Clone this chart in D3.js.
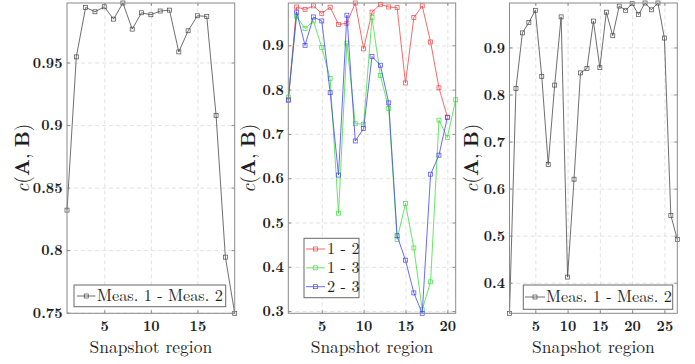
<!DOCTYPE html>
<html>
<head>
<meta charset="utf-8">
<script src="https://cdn.jsdelivr.net/npm/d3@7"></script>
<style>
  html, body { margin: 0; padding: 0; background: #fff; }
  svg { display: block; }
</style>
</head>
<body>
<svg id="chart" width="695" height="364"></svg>
<script>
// ---------------- data ----------------
const leftRegions = [1,2,3,4,5,6,7,8,9,10,11,12,13,14,15,16,17,18,19];
const leftValues = [0.832,0.9545,0.9941,0.9906,0.9946,0.9847,0.9976,0.9767,0.9898,0.9882,0.9912,0.9919,0.9585,0.9754,0.9874,0.9869,0.9078,0.7944,0.7495];
const leftXTicks = [5,10,15];
const leftYTicks = [0.75,0.8,0.85,0.9,0.95];
const leftLegend = ["Meas. 1 - Meas. 2"];

const midRegions12 = [1,2,3,4,5,6,7,8,9,10,11,12,13,14,15,16,17,18,19,20];
const mid12 = [0.778,0.9865,0.981,0.989,0.972,0.986,0.947,0.950,0.9955,0.892,0.975,0.9925,0.9865,0.985,0.815,0.9625,0.989,0.9075,0.804,0.738];
const midRegions13 = [1,2,3,4,5,6,7,8,9,10,11,12,13,14,15,16,17,18,19,20,21];
const mid13 = [0.783,0.965,0.938,0.955,0.895,0.825,0.521,0.905,0.723,0.722,0.9625,0.832,0.757,0.462,0.543,0.4425,0.303,0.366,0.731,0.692,0.777];
const midRegions23 = [1,2,3,4,5,6,7,8,9,10,11,12,13,14,15,16,17,18,19,20];
const mid23 = [0.776,0.975,0.900,0.964,0.955,0.793,0.607,0.968,0.684,0.712,0.875,0.855,0.770,0.470,0.415,0.341,0.295,0.609,0.652,0.737];
const midXDomain = [1,21];
const midXTicks = [5,10,15,20];
const midYTicks = [0.3,0.4,0.5,0.6,0.7,0.8,0.9];
const midLegend = ["1 - 2","1 - 3","2 - 3"];

const rightRegions = [1,2,3,4,5,6,7,8,9,10,11,12,13,14,15,16,17,18,19,20,21,22,23,24,25,26,27];
const rightValues = [0.335,0.813,0.931,0.953,0.979,0.838,0.651,0.820,0.965,0.412,0.620,0.846,0.855,0.956,0.857,0.975,0.925,0.988,0.979,0.993,0.970,0.9945,0.980,0.9945,0.920,0.543,0.492];
const rightXTicks = [5,10,15,20,25];
const rightYTicks = [0.4,0.5,0.6,0.7,0.8,0.9];
const rightLegend = ["Meas. 1 - Meas. 2"];

const xLabel = "Snapshot region";

// ---------------- layout / style ----------------
const FONT = "Latin Modern Roman";
const svg = d3.select("#chart");
const TOP = 3, BOTTOM = 313.3;
const frameColor = "#8a8a8a";
const gridColor = "#dadada";
const textColor = "#1e1e1e";

const panels = [
  { x0: 67, x1: 234.7, series: [{xs: leftRegions, ys: leftValues, color: "#4a4a4a", name: leftLegend[0]}],
    xTicks: leftXTicks, yTicks: leftYTicks, ylabX: 28.5,
    legend: {x: 74, y: 285, w: 151.7, h: 21.7, lineX0: 77, lineX1: 95.5, textX: 97, rowY: [296]} },
  { x0: 288.3, x1: 455.7, xDomain: midXDomain, series: [
      {xs: midRegions12, ys: mid12, color: "#f04545", name: midLegend[0]},
      {xs: midRegions13, ys: mid13, color: "#3fe03f", name: midLegend[1]},
      {xs: midRegions23, ys: mid23, color: "#4545f0", name: midLegend[2]}],
    xTicks: midXTicks, yTicks: midYTicks, ylabX: 255,
    legend: {x: 304, y: 238.3, w: 55, h: 59.4, lineX0: 306, lineX1: 325, textX: 327, rowY: [249, 267.8, 286.7]} },
  { x0: 509.5, x1: 677.3, series: [{xs: rightRegions, ys: rightValues, color: "#4a4a4a", name: rightLegend[0]}],
    xTicks: rightXTicks, yTicks: rightYTicks, ylabX: 477.5,
    legend: {x: 523.3, y: 285, w: 149.4, h: 24.3, lineX0: 525, lineX1: 545, textX: 546, rowY: [297]} }
];

const fmt = d => String(+d.toFixed(2));

panels.forEach(p => {
  const allX = p.series.flatMap(s => s.xs);
  const allY = p.series.flatMap(s => s.ys);
  const x = d3.scaleLinear().domain(p.xDomain || d3.extent(allX)).range([p.x0, p.x1]);
  const y = d3.scaleLinear().domain(d3.extent(allY)).range([BOTTOM, TOP]);
  const W = p.x1 - p.x0, H = BOTTOM - TOP;
  const g = svg.append("g");

  // grid
  const gx = g.append("g").attr("transform", `translate(0,${BOTTOM})`)
    .call(d3.axisBottom(x).tickValues(p.xTicks).tickSize(-H).tickFormat(""));
  const gy = g.append("g").attr("transform", `translate(${p.x0},0)`)
    .call(d3.axisLeft(y).tickValues(p.yTicks).tickSize(-W).tickFormat(""));
  [gx, gy].forEach(a => {
    a.select(".domain").remove();
    a.selectAll("text").remove();
    a.selectAll("line").attr("stroke", gridColor).attr("stroke-dasharray", "4,3").attr("stroke-width", 0.8);
  });

  // lines and markers
  const clipId = "clip" + Math.round(p.x0);
  g.append("clipPath").attr("id", clipId).append("rect")
    .attr("x", p.x0 - 3).attr("y", TOP - 3).attr("width", W + 6).attr("height", H + 6);
  const plot = g.append("g").attr("clip-path", `url(#${clipId})`);
  const line = d3.line().x(d => x(d[0])).y(d => y(d[1]));
  p.series.forEach(s => {
    const pts = s.xs.map((v, i) => [v, s.ys[i]]);
    plot.append("path").datum(pts).attr("d", line)
      .attr("fill", "none").attr("stroke", s.color).attr("stroke-width", 0.8);
    plot.selectAll(null).data(pts).enter().append("rect")
      .attr("x", d => x(d[0]) - 2).attr("y", d => y(d[1]) - 2)
      .attr("width", 4).attr("height", 4)
      .attr("fill", "none").attr("stroke", s.color).attr("stroke-width", 0.7);
  });

  // frame
  g.append("rect").attr("x", p.x0).attr("y", TOP).attr("width", W).attr("height", H)
    .attr("fill", "none").attr("stroke", frameColor).attr("stroke-width", 1);

  // axes with inward ticks
  const ax = g.append("g").attr("transform", `translate(0,${BOTTOM})`)
    .call(d3.axisBottom(x).tickValues(p.xTicks).tickSizeInner(-3).tickSizeOuter(0).tickPadding(7.5).tickFormat(d3.format("d")));
  const ay = g.append("g").attr("transform", `translate(${p.x0},0)`)
    .call(d3.axisLeft(y).tickValues(p.yTicks).tickSizeInner(-3).tickSizeOuter(0).tickPadding(4.5).tickFormat(fmt));
  const at = g.append("g").attr("transform", `translate(0,${TOP})`)
    .call(d3.axisTop(x).tickValues(p.xTicks).tickSizeInner(-3).tickSizeOuter(0).tickFormat(""));
  const ar = g.append("g").attr("transform", `translate(${p.x1},0)`)
    .call(d3.axisRight(y).tickValues(p.yTicks).tickSizeInner(-3).tickSizeOuter(0).tickFormat(""));
  [at, ar].forEach(a => a.selectAll("text").remove());
  [ax, ay, at, ar].forEach(a => {
    a.attr("font-family", FONT);
    a.select(".domain").remove();
    a.selectAll("line").attr("stroke", frameColor);
    a.selectAll("text").attr("font-family", FONT)
      .attr("font-size", 14.5).attr("font-weight", "bold").attr("fill", textColor);
  });

  // x label
  g.append("text").attr("x", (p.x0 + p.x1) / 2).attr("y", 352.5)
    .attr("font-family", FONT).attr("fill", textColor)
    .attr("text-anchor", "middle").attr("font-size", 17.5).text(xLabel);

  // y label c(A, B)
  const yl = g.append("text")
    .attr("transform", `translate(${p.ylabX},${(TOP + BOTTOM) / 2}) rotate(-90)`)
    .attr("font-family", FONT).attr("fill", textColor)
    .attr("text-anchor", "middle").attr("font-size", 19.5);
  yl.append("tspan").attr("font-style", "italic").text("c");
  yl.append("tspan").text("(");
  yl.append("tspan").attr("font-weight", "bold").text("A");
  yl.append("tspan").text(", ");
  yl.append("tspan").attr("font-weight", "bold").text("B");
  yl.append("tspan").text(")");

  // legend
  const L = p.legend;
  const lg = g.append("g");
  lg.append("rect").attr("x", L.x).attr("y", L.y).attr("width", L.w).attr("height", L.h)
    .attr("fill", "#fff").attr("stroke", "#6a6a6a").attr("stroke-width", 1);
  p.series.forEach((s, i) => {
    const ry = L.rowY[i];
    lg.append("line").attr("x1", L.lineX0).attr("x2", L.lineX1).attr("y1", ry).attr("y2", ry)
      .attr("stroke", s.color).attr("stroke-width", 0.8);
    lg.append("rect").attr("x", (L.lineX0 + L.lineX1) / 2 - 2).attr("y", ry - 2)
      .attr("width", 4).attr("height", 4).attr("fill", "none").attr("stroke", s.color).attr("stroke-width", 0.7);
    lg.append("text").attr("x", L.textX).attr("y", ry).attr("dy", "0.33em")
      .attr("font-family", FONT).attr("fill", textColor)
      .attr("font-size", 16.3).text(s.name);
  });
});
</script>
</body>
</html>
